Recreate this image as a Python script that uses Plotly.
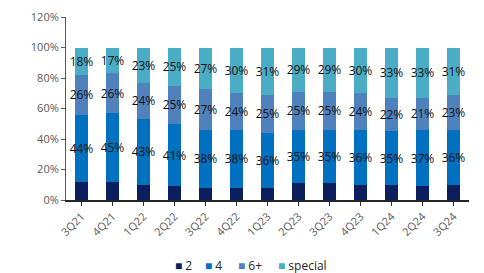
import plotly.graph_objects as go

quarters = ["3Q21", "4Q21", "1Q22", "2Q22", "3Q22", "4Q22", "1Q23", "2Q23", "3Q23", "4Q23", "1Q24", "2Q24", "3Q24"]
s2 = [12, 12, 10, 9, 8, 8, 8, 11, 11, 10, 10, 9, 10]
s4 = [44, 45, 43, 41, 38, 38, 36, 35, 35, 36, 35, 37, 36]
s6 = [26, 26, 24, 25, 27, 24, 25, 25, 25, 24, 22, 21, 23]
special = [18, 17, 23, 25, 27, 30, 31, 29, 29, 30, 33, 33, 31]

series = [
    ("2", s2, "#0b1f5e", False),
    ("4", s4, "#0070c0", True),
    ("6+", s6, "#4f81bd", True),
    ("special", special, "#4bacc6", True),
]

font = "Open Sans, Liberation Sans, sans-serif"
fig = go.Figure()
for name, vals, color, show in series:
    fig.add_trace(go.Bar(
        x=quarters,
        y=[v / 100 for v in vals],
        name=name,
        marker=dict(color=color, line=dict(width=0)),
        text=[f"{v}%" for v in vals] if show else None,
        textposition="inside" if show else "none",
        insidetextanchor="middle",
        textangle=0,
        constraintext="none",
        textfont=dict(color="#111111", size=12, family=font),
        hoverinfo="skip",
    ))

# legend built as text annotations (compact, like the original)
L, W, T, H = 66, 403, 17, 183
legend_left_px = [173, 203, 236, 276]
annotations = []
for (name, _, color, _), px in zip(series, legend_left_px):
    annotations.append(dict(
        text=f"<span style='color:{color}'>■</span> {name}",
        xref="paper", yref="paper", x=(px - L) / W, y=(T + H - 265) / H,
        xanchor="left", yanchor="middle", showarrow=False,
        font=dict(size=12, color="#262626", family=font)))

fig.update_layout(
    barmode="stack",
    bargap=0.57,
    width=484, height=273,
    margin=dict(l=L, r=484 - L - W, t=T, b=273 - T - H),
    plot_bgcolor="white", paper_bgcolor="white",
    font=dict(family=font, size=11, color="#404040"),
    showlegend=False,
    annotations=annotations,
)
fig.update_yaxes(range=[0, 1.2], dtick=0.2, tickformat=".0%", showgrid=False,
                 showline=True, linecolor="#595959", linewidth=1,
                 ticks="outside", ticklen=4, tickcolor="#595959", automargin=False,
                 tickfont=dict(size=11, color="#595959"), zeroline=False)
fig.update_xaxes(showline=True, linecolor="#262626", linewidth=1.5,
                 ticks="outside", ticklen=4, tickcolor="#262626", automargin=False,
                 tickangle=-45, tickfont=dict(size=11, color="#595959"))

fig.write_html("out.html", config={"displayModeBar": False},
               post_script="document.body.style.margin='0';document.body.style.overflow='hidden';")
